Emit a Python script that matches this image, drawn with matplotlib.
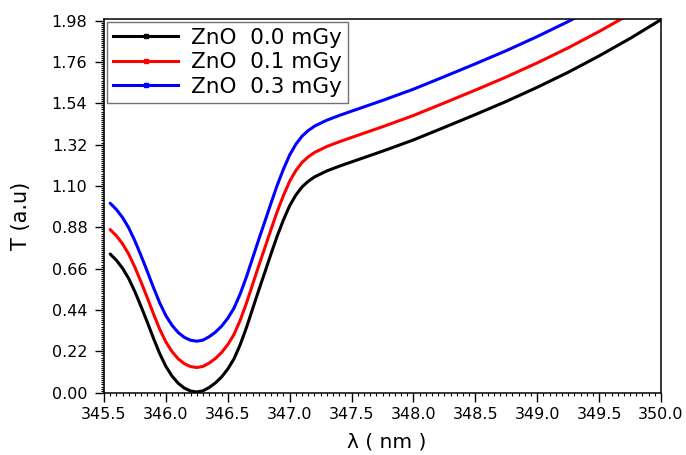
import matplotlib
matplotlib.use("Agg")
import matplotlib.pyplot as plt
from matplotlib.lines import Line2D
from matplotlib.ticker import MultipleLocator, AutoMinorLocator, FormatStrFormatter

plt.rcParams["font.family"] = ["DejaVu Sans"]

# wavelength grid (nm)
wavelength = [
    345.55, 345.60, 345.65, 345.70, 345.75, 345.80, 345.85, 345.90, 345.95,
    346.00, 346.05, 346.10, 346.15, 346.20, 346.25, 346.30, 346.35, 346.40,
    346.45, 346.50, 346.55, 346.60, 346.65, 346.70, 346.75, 346.80, 346.85,
    346.90, 346.95, 347.00, 347.05, 347.10, 347.15, 347.20, 347.30, 347.40,
    347.50, 347.75, 348.00, 348.25, 348.50, 348.75, 349.00, 349.25, 349.50,
    349.75, 350.00,
]

t_0mgy = [
    0.738, 0.705, 0.662, 0.607, 0.537, 0.458, 0.375, 0.289, 0.208,
    0.140, 0.088, 0.050, 0.024, 0.009, 0.004, 0.010, 0.028, 0.052,
    0.084, 0.126, 0.180, 0.255, 0.345, 0.445, 0.545, 0.642, 0.740,
    0.835, 0.920, 0.995, 1.052, 1.095, 1.125, 1.148, 1.180, 1.205,
    1.228, 1.285, 1.345, 1.412, 1.480, 1.550, 1.625, 1.705, 1.792,
    1.885, 1.985,
]

t_01mgy = [
    0.868, 0.835, 0.792, 0.737, 0.667, 0.588, 0.505, 0.419, 0.338,
    0.270, 0.218, 0.180, 0.154, 0.139, 0.134, 0.140, 0.158, 0.182,
    0.214, 0.256, 0.310, 0.385, 0.475, 0.575, 0.675, 0.772, 0.870,
    0.965, 1.050, 1.125, 1.182, 1.225, 1.255, 1.278, 1.310, 1.335,
    1.358, 1.415, 1.475, 1.542, 1.610, 1.680, 1.755, 1.835, 1.922,
    2.015, 2.115,
]

t_03mgy = [
    1.008, 0.975, 0.932, 0.877, 0.807, 0.728, 0.645, 0.559, 0.478,
    0.410, 0.358, 0.320, 0.294, 0.279, 0.274, 0.280, 0.298, 0.322,
    0.354, 0.396, 0.450, 0.525, 0.615, 0.715, 0.815, 0.912, 1.010,
    1.105, 1.190, 1.265, 1.322, 1.365, 1.395, 1.418, 1.450, 1.475,
    1.498, 1.555, 1.615, 1.682, 1.750, 1.820, 1.895, 1.975, 2.062,
    2.155, 2.255,
]

labels = ["ZnO  0.0 mGy", "ZnO  0.1 mGy", "ZnO  0.3 mGy"]
colors = ["black", "red", "blue"]

fig = plt.figure(figsize=(6.86, 4.55), dpi=100)
ax = fig.add_axes([0.1516, 0.1369, 0.812, 0.822])

for y, c in zip([t_0mgy, t_01mgy, t_03mgy], colors):
    ax.plot(wavelength, y, color=c, lw=2.2, solid_capstyle="round")

ax.set_xlim(345.5, 350.0)
ax.set_ylim(0.0, 1.99)
ax.xaxis.set_major_locator(MultipleLocator(0.5))
ax.xaxis.set_minor_locator(AutoMinorLocator(10))
ax.yaxis.set_major_locator(MultipleLocator(0.22))
ax.yaxis.set_minor_locator(AutoMinorLocator(20))
ax.xaxis.set_major_formatter(FormatStrFormatter("%.1f"))
ax.yaxis.set_major_formatter(FormatStrFormatter("%.2f"))

ax.tick_params(which="both", direction="out", top=False, right=False,
               width=1.0, labelsize=11.5)
ax.tick_params(axis="y", which="major", length=6.5, pad=5.5)
ax.tick_params(axis="x", which="major", length=6.5, pad=4)
ax.tick_params(which="minor", length=2.3, width=0.8)
for sp in ax.spines.values():
    sp.set_linewidth(1.1)

fig.text(0.563, 0.008, "λ ( nm )", fontsize=14.5, ha="center", va="bottom")
fig.text(0.03, 0.525, "T (a.u)", fontsize=15, rotation=90,
         ha="center", va="center")

# legend handles: line with a small square marker at its centre
handles = [Line2D([], [], color=c, lw=2.2, marker="s", markersize=2.5)
           for c in colors]
leg = ax.legend(handles, labels, loc="upper left",
                bbox_to_anchor=(0.0, 1.0), fontsize=15.5,
                frameon=True, fancybox=False, edgecolor="0.3",
                handlelength=3.0, handletextpad=0.6, labelspacing=0.2,
                borderpad=0.28, borderaxespad=0.15)
leg.get_frame().set_linewidth(1.0)

fig.savefig("out.png", dpi=100)
